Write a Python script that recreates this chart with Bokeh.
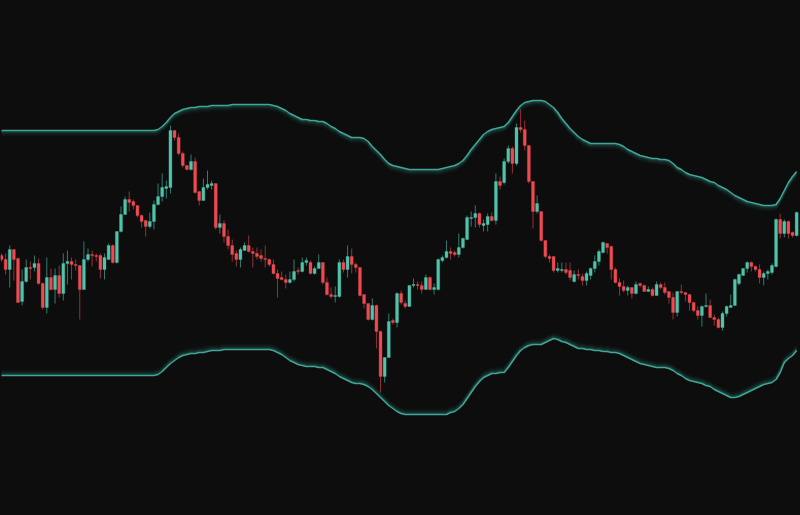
import numpy as np
import pandas as pd
from bokeh.plotting import figure
from bokeh.models import ColumnDataSource, Range1d, GlobalInlineStyleSheet
from bokeh.transform import dodge
from bokeh.embed import file_html
from bokeh.resources import INLINE

# ---------------- data (price units) ----------------
opens = [
    260, 256, 246, 266, 257, 214, 234, 248, 248, 252,
    232, 208, 238, 226, 240, 222, 252, 254, 251, 250,
    226, 256, 261, 260, 260, 246, 256, 270, 253, 284,
    301, 316, 314, 310, 300, 295, 289, 294, 311, 319,
    327, 328, 385, 378, 362, 350, 346, 354, 324, 315,
    328, 330, 332, 288, 292, 279, 270, 262, 256, 265,
    270, 264, 262, 260, 257, 256, 251, 242, 238, 236,
    233, 236, 245, 244, 253, 253, 242, 247, 253, 233,
    221, 219, 219, 253, 246, 259, 251, 248, 221, 212,
    196, 210, 184, 139, 158, 195, 193, 222, 212, 209,
    230, 231, 230, 226, 238, 226, 226, 255, 258, 264,
    263, 261, 268, 276, 297, 298, 302, 290, 291, 299,
    295, 334, 333, 354, 367, 352, 388, 386, 370, 334,
    304, 304, 275, 259, 259, 245, 245, 246, 245, 234,
    241, 239, 235, 240, 247, 254, 263, 272, 269, 246,
    233, 229, 225, 228, 222, 232, 230, 224, 226, 220,
    231, 228, 224, 218, 203, 224, 223, 221, 213, 205,
    200, 209, 210, 198, 196, 188, 202, 208, 210, 232,
    240, 247, 253, 249, 246, 238, 242, 243, 249, 296,
    282, 294, 283, 280,
]
highs = [
    262, 262, 270, 266, 258, 246, 256, 254, 260, 257,
    233, 258, 247, 247, 250, 262, 265, 258, 256, 250,
    274, 267, 265, 262, 262, 262, 272, 271, 284, 309,
    319, 324, 316, 310, 301, 295, 303, 315, 332, 342,
    335, 390, 385, 382, 364, 350, 361, 358, 324, 337,
    345, 335, 332, 301, 295, 286, 276, 265, 268, 273,
    280, 268, 268, 266, 270, 257, 256, 246, 244, 241,
    244, 256, 248, 258, 258, 255, 249, 261, 253, 238,
    228, 229, 256, 256, 270, 267, 253, 248, 221, 212,
    217, 211, 185, 158, 202, 197, 223, 225, 215, 230,
    237, 234, 234, 241, 239, 232, 257, 260, 275, 268,
    265, 282, 278, 300, 304, 310, 303, 296, 302, 303,
    342, 339, 357, 370, 369, 392, 406, 395, 370, 334,
    320, 304, 275, 261, 259, 253, 253, 253, 253, 245,
    246, 242, 244, 248, 260, 266, 274, 272, 270, 248,
    237, 235, 230, 228, 234, 233, 231, 229, 228, 234,
    233, 233, 224, 223, 224, 231, 223, 221, 213, 209,
    210, 222, 216, 201, 198, 204, 210, 221, 237, 242,
    247, 254, 254, 250, 251, 244, 246, 252, 297, 302,
    296, 295, 284, 304,
]
lows = [
    254, 241, 228, 235, 213, 210, 233, 236, 244, 231,
    206, 202, 225, 212, 218, 215, 231, 236, 245, 196,
    226, 254, 249, 254, 237, 236, 256, 252, 252, 283,
    301, 304, 306, 298, 288, 279, 287, 286, 310, 314,
    317, 322, 375, 360, 348, 345, 345, 322, 310, 315,
    326, 326, 286, 282, 273, 266, 254, 249, 248, 265,
    263, 248, 256, 254, 248, 249, 241, 218, 235, 227,
    232, 234, 241, 243, 250, 241, 241, 247, 231, 220,
    217, 213, 218, 243, 238, 242, 243, 219, 207, 195,
    195, 167, 123, 133, 158, 191, 188, 211, 207, 209,
    228, 226, 222, 226, 225, 221, 225, 253, 257, 256,
    259, 258, 267, 276, 289, 288, 288, 284, 284, 294,
    291, 326, 331, 352, 342, 350, 383, 365, 332, 287,
    302, 274, 257, 253, 243, 243, 243, 241, 235, 233,
    236, 230, 230, 236, 243, 250, 262, 262, 236, 232,
    220, 223, 220, 217, 221, 228, 224, 224, 219, 220,
    226, 221, 212, 196, 199, 221, 214, 205, 203, 196,
    189, 208, 198, 190, 187, 185, 199, 208, 210, 230,
    240, 243, 244, 244, 232, 230, 236, 241, 248, 277,
    278, 277, 278, 279,
]
closes = [
    256, 246, 266, 256, 213, 234, 248, 247, 252, 232,
    208, 238, 226, 240, 222, 252, 254, 251, 250, 226,
    256, 261, 260, 259, 246, 258, 270, 253, 284, 301,
    316, 313, 310, 300, 294, 289, 294, 311, 319, 328,
    329, 385, 378, 362, 350, 346, 354, 323, 315, 328,
    331, 332, 288, 292, 279, 270, 261, 256, 266, 270,
    264, 262, 259, 257, 256, 251, 242, 237, 236, 233,
    236, 244, 244, 253, 255, 242, 247, 253, 233, 221,
    219, 220, 253, 246, 259, 251, 248, 220, 212, 196,
    210, 184, 139, 158, 194, 193, 222, 213, 209, 230,
    231, 230, 226, 238, 226, 228, 256, 258, 264, 262,
    261, 268, 277, 298, 298, 302, 291, 292, 299, 295,
    334, 330, 354, 367, 352, 388, 386, 370, 334, 304,
    312, 275, 259, 257, 245, 247, 246, 243, 238, 241,
    240, 235, 242, 247, 254, 264, 273, 268, 246, 233,
    229, 225, 228, 222, 231, 230, 224, 226, 220, 231,
    228, 223, 218, 203, 224, 223, 221, 213, 205, 200,
    209, 210, 198, 196, 188, 202, 209, 210, 236, 241,
    247, 253, 249, 246, 238, 242, 244, 250, 296, 282,
    294, 282, 280, 303,
]
upper_band = [
    385, 385, 385, 385, 385, 385, 385, 385, 385, 385,
    385, 385, 385, 385, 385, 385, 385, 385, 385, 385,
    385, 385, 385, 385, 385, 385, 385, 385, 385, 385,
    385, 385, 385, 385, 385, 385, 385, 385, 386, 389,
    393, 398, 402, 404, 406, 407, 408, 408, 409, 409,
    409, 410, 410, 410, 410, 410, 411, 411, 411, 411,
    411, 411, 411, 411, 411, 411, 410, 409, 407, 405,
    402, 400, 398, 396, 396, 395, 395, 394, 394, 392,
    389, 387, 384, 382, 380, 378, 378, 378, 377, 374,
    369, 365, 361, 356, 352, 350, 349, 348, 347, 346,
    346, 346, 346, 346, 346, 346, 346, 347, 348, 349,
    350, 352, 355, 360, 366, 371, 376, 381, 384, 386,
    387, 388, 389, 393, 399, 405, 410, 413, 414, 415,
    415, 415, 414, 411, 408, 403, 397, 392, 387, 383,
    379, 376, 374, 372, 372, 372, 372, 372, 372, 372,
    371, 369, 366, 364, 362, 360, 359, 358, 357, 357,
    356, 356, 355, 352, 348, 346, 343, 341, 340, 339,
    338, 336, 334, 333, 330, 328, 326, 323, 320, 318,
    316, 314, 313, 312, 311, 310, 310, 310, 311, 317,
    325, 333, 339, 344,
]
lower_band = [
    140, 140, 140, 140, 140, 140, 140, 140, 140, 140,
    140, 140, 140, 140, 140, 140, 140, 140, 140, 140,
    140, 140, 140, 140, 140, 140, 140, 140, 140, 140,
    140, 140, 140, 140, 140, 140, 140, 140, 141, 144,
    148, 152, 155, 158, 160, 161, 162, 162, 163, 163,
    164, 165, 165, 165, 166, 166, 166, 166, 166, 166,
    166, 166, 166, 166, 166, 166, 165, 163, 161, 158,
    155, 153, 151, 150, 149, 149, 149, 148, 148, 146,
    144, 142, 139, 137, 135, 133, 132, 132, 131, 129,
    126, 122, 118, 114, 110, 107, 104, 102, 101, 101,
    101, 101, 101, 101, 101, 101, 101, 101, 101, 103,
    104, 107, 111, 117, 123, 129, 134, 138, 140, 142,
    142, 143, 143, 148, 154, 160, 165, 168, 170, 171,
    171, 171, 173, 175, 177, 176, 174, 173, 171, 169,
    167, 167, 166, 166, 165, 165, 164, 164, 163, 163,
    162, 160, 158, 156, 154, 152, 151, 150, 149, 148,
    148, 148, 147, 145, 142, 140, 137, 135, 134, 133,
    132, 130, 129, 126, 124, 122, 120, 118, 118, 119,
    121, 123, 125, 127, 129, 131, 132, 133, 136, 143,
    153, 157, 160, 165,
]

BG = "#0d0d0d"
UP = "#4fc4ad"
DOWN = "#ef4a50"
BAND = "#3fa798"

df = pd.DataFrame({"open": opens, "high": highs, "low": lows, "close": closes,
                   "upper": upper_band, "lower": lower_band})
df["idx"] = np.arange(len(df))
df["top"] = df[["open", "close"]].max(axis=1)
df["bottom"] = df[["open", "close"]].min(axis=1)
df["color"] = np.where(df["close"] > df["open"], UP, DOWN)

src = ColumnDataSource(df)

p = figure(width=800, height=515, output_backend="svg", toolbar_location=None,
           x_axis_location=None, y_axis_location=None,
           x_range=Range1d(-0.243, 193.93), y_range=Range1d(0, 515),
           background_fill_color=BG, border_fill_color=BG,
           min_border=0, outline_line_color=None)
p.xgrid.visible = False
p.ygrid.visible = False
p.stylesheets = [GlobalInlineStyleSheet(css="html, body { background-color: #0d0d0d; }")]

# band glow (inner side)
glow = [(1, 0.26), (2, 0.17), (3, 0.11), (4, 0.07), (5, 0.04), (6, 0.02)]
for k, a in glow:
    p.line(x="idx", y=dodge("upper", -k, range=p.y_range), source=src,
           line_color=BAND, line_alpha=a, line_width=1.5)
    p.line(x="idx", y=dodge("lower", k, range=p.y_range), source=src,
           line_color=BAND, line_alpha=a, line_width=1.5)
p.line(x="idx", y="upper", source=src, line_color=BAND, line_width=1.5)
p.line(x="idx", y="lower", source=src, line_color=BAND, line_width=1.5)

# candles
p.segment(x0="idx", y0="high", x1="idx", y1="low", source=src,
          line_color="color", line_alpha=0.6, line_width=1)
p.vbar(x="idx", top="top", bottom="bottom", width=0.72, source=src,
       fill_color="color", line_color="color", line_width=0.3)

open("out.html", "w").write(file_html(p, INLINE))
